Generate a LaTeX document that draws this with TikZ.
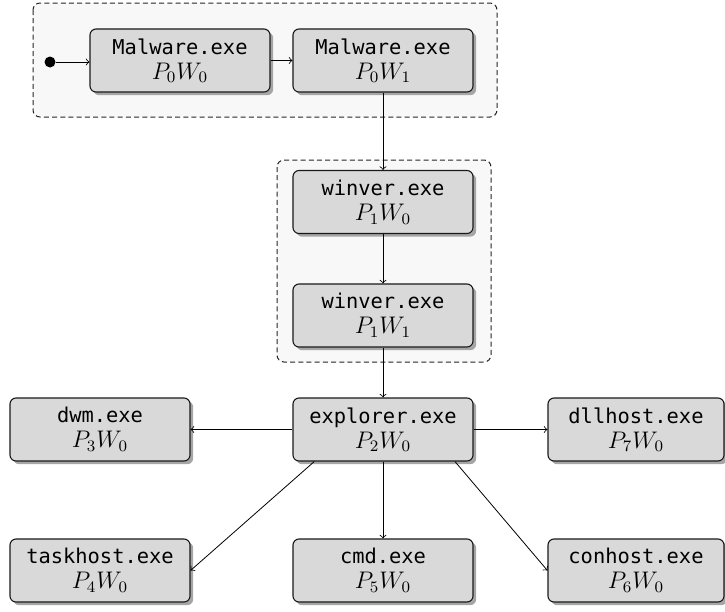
\documentclass[tikz,border=0pt]{standalone}
\usepackage{fontspec}
\setmonofont[Scale=1.02]{DejaVu Sans Mono}
\usetikzlibrary{shadows}
\definecolor{boxfill}{HTML}{D9D9D9}
\definecolor{groupfill}{HTML}{F8F8F8}
\definecolor{shadowgray}{HTML}{A6A6A6}
\tikzset{
  proc/.style={draw=black!90, line width=0.55pt, fill=boxfill, rounded corners=3pt,
    minimum width=90pt, minimum height=31.5pt, align=center, inner sep=0pt,
    font=\normalsize,
    drop shadow={shadow xshift=1.6pt, shadow yshift=-1.6pt, fill=shadowgray, opacity=1}},
  group/.style={draw=black!85, dash pattern=on 2.5pt off 1.6pt, line width=0.5pt,
    fill=groupfill, rounded corners=3.5pt},
  flow/.style={->, line width=0.4pt},
  start/.style={circle, fill=black, inner sep=0pt, minimum size=5.5pt}
}
\newcommand{\proclabel}[2]{\texttt{#1}\\[0.5pt]{\large$#2$}}
\begin{document}
\begin{tikzpicture}[x=0.5pt, y=-0.5pt]
  \useasboundingbox (0,0) rectangle (725,612);
  % dashed groups
  \draw[group] (33,3) rectangle (497,117);
  \draw[group] (277,160) rectangle (491,362);

  % initial state
  \node[start] (init) at (50,62) {};

  % process nodes
  \node[proc] (m0) at (180,60.5) {\proclabel{Malware.exe}{P_0W_0}};
  \node[proc] (m1) at (383,60.5) {\proclabel{Malware.exe}{P_0W_1}};
  \node[proc] (w0) at (383,202) {\proclabel{winver.exe}{P_1W_0}};
  \node[proc] (w1) at (383,315.5) {\proclabel{winver.exe}{P_1W_1}};
  \node[proc] (ex) at (383,429.5) {\proclabel{explorer.exe}{P_2W_0}};
  \node[proc] (dwm) at (100,429.5) {\proclabel{dwm.exe}{P_3W_0}};
  \node[proc, minimum width=88pt] (dll) at (636,429.5) {\proclabel{dllhost.exe}{P_7W_0}};
  \node[proc] (task) at (100,570.5) {\proclabel{taskhost.exe}{P_4W_0}};
  \node[proc] (cmd) at (383,570.5) {\proclabel{cmd.exe}{P_5W_0}};
  \node[proc, minimum width=88pt] (con) at (636,570.5) {\proclabel{conhost.exe}{P_6W_0}};

  % transitions
  \draw[flow] (init) -- (init -| m0.west);
  \draw[flow] (m0.east) -- (m1.west);
  \draw[flow] (m1.south) -- (w0.north);
  \draw[flow] (w0.south) -- (w1.north);
  \draw[flow] (w1.south) -- (ex.north);
  \draw[flow] (ex.west) -- (dwm.east);
  \draw[flow] (ex.east) -- (dll.west);
  \draw[flow] (ex.south) -- (cmd.north);
  \draw[flow] (ex.-155.5) -- (task.east);
  \draw[flow] (ex.-24.5) -- (con.west);
\end{tikzpicture}
\end{document}
